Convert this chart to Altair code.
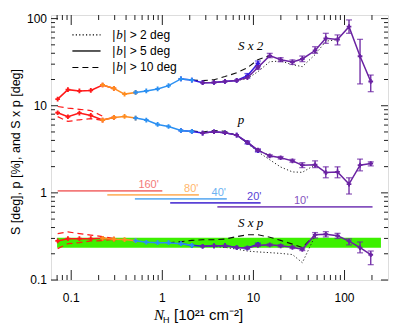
import altair as alt
import pandas as pd

# ---------------- values ----------------
NH = [0.071, 0.092, 0.123, 0.164, 0.221, 0.294, 0.385, 0.509, 0.667, 0.888,
      1.17, 1.60, 2.11, 2.77, 3.69, 4.87, 6.55, 8.59, 11.2, 15.1,
      19.9, 26.8, 34.4, 47.5, 62.3, 83.8, 112, 148, 194]
S2 = [11.9, 15.3, 14.8, 15.0, 17.3, 15.8, 13.6, 14.2, 14.8, 15.6,
      17.0, 20.3, 19.7, 18.4, 18.5, 19.0, 19.5, 21.0, 27.5, 37.6,
      33.8, 31.8, 34.4, 43.0, 59.4, 57.5, 80.9, 37.0, 19.0]
P = [8.31, 7.48, 8.24, 7.74, 6.85, 7.34, 7.54, 7.22, 6.85, 6.10,
     5.78, 5.20, 5.07, 4.86, 5.03, 4.90, 4.60, 3.79, 3.10, 2.66,
     2.53, 2.33, 2.08, 2.10, 1.71, 1.74, 1.26, 2.08, 2.17]
SP = [0.281, 0.298, 0.298, 0.298, 0.301, 0.294, 0.291, 0.283, 0.271, 0.268,
      0.268, 0.261, 0.250, 0.244, 0.247, 0.248, 0.236, 0.233, 0.250, 0.253,
      0.247, 0.237, 0.225, 0.330, 0.335, 0.322, 0.280, 0.235, 0.195]

# 20' curve where it separates from the 10' curve (indices 11..18)
S2_20 = [20.3, 19.7, 18.4, 18.5, 19.0, 19.5, 22.1, 30.5]
P_20 = [5.20, 5.07, 4.86, 5.03, 4.90, 4.60, 3.79, 3.05]
SP_20 = [0.261, 0.250, 0.244, 0.247, 0.248, 0.236, 0.233, 0.257]
E20_S2_LO, E20_S2_HI = [20.8, 28.5], [23.4, 32.6]
E20_P_LO, E20_P_HI = [3.65, 2.95], [3.93, 3.15]
E20_SP_LO, E20_SP_HI = [0.226, 0.249], [0.240, 0.265]

# error bars of the 10' curve (indices 18..28)
S2_LO = [26.3, 35.6, 32.0, 29.8, 32.1, 39.9, 52.0, 49.9, 67.8, 17.8, 14.5]
S2_HI = [28.8, 39.9, 35.6, 33.5, 37.2, 47.6, 67.8, 65.0, 96.6, 57.8, 22.5]
P_LO = [3.00, 2.58, 2.45, 2.25, 1.95, 1.95, 1.49, 1.49, 0.97, 1.79, 2.04]
P_HI = [3.20, 2.74, 2.61, 2.42, 2.22, 2.33, 1.99, 1.99, 1.49, 2.44, 2.27]
SP_LO = [0.243, 0.246, 0.240, 0.230, 0.218, 0.304, 0.312, 0.300, 0.253, 0.205, 0.150]
SP_HI = [0.257, 0.260, 0.254, 0.244, 0.232, 0.350, 0.359, 0.343, 0.296, 0.273, 0.215]

# black curves: |b| > 2 deg (dotted) and |b| > 10 deg (dashed)
S2_DOT = [19.5, 20.5, 24.6, 32.0, 32.6, 29.6, 28.1, 38.6, 55.0, 57.5]      # idx 16..25
P_DOT = [4.60, 3.70, 2.96, 2.40, 1.98, 1.74, 1.72, 2.10]                   # idx 16..23
SP_DOT = [0.244, 0.243, 0.237, 0.226, 0.215, 0.210, 0.206, 0.202, 0.196,
          0.158, 0.320]                                                      # idx 13..23
S2_DASH = [19.7, 19.4, 19.9, 21.6, 23.9, 27.3, 33.8, 37.6]                 # idx 12..19
P_DASH = [5.15, 5.00, 5.20, 5.10, 4.55, 3.75, 3.10, 2.66]                  # idx 12..19
SP_DASH = [0.268, 0.275, 0.285, 0.290, 0.290, 0.295, 0.315, 0.330, 0.330,
           0.310, 0.285, 0.258, 0.235, 0.330]                                # idx 10..23

# 160' curves for the other latitude cuts (red dashed)
P_RED_A = [9.8, 9.4, 9.1, 8.8, 7.6]
P_RED_B = [7.5, 6.6, 6.9, 7.1, 6.8]
SP_RED_A = [0.341, 0.356, 0.341, 0.327, 0.315, 0.300]
SP_RED_B = [0.229, 0.261, 0.268, 0.281, 0.283, 0.294]

RES = ["160'", "80'", "40'", "20'", "10'"]
SEG_FIRST = [0, 4, 7, 11, 13]
SEG_LAST = [5, 7, 12, 18, 28]
RES_NH_MIN = [0.071, 0.249, 0.50, 1.22, 4.02]
RES_NH_MAX = [1.00, 2.52, 5.10, 12.0, 203]
RES_LEVEL = [1.054, 0.948, 0.853, 0.767, 0.690]
RES_LABEL_NH = [0.707, 2.08, 4.16, 10.2, 33.4]
RES_LABEL_Y = [1.127, 1.027, 0.917, 0.824, 0.742]

BAND_NH = [0.070, 251]
BAND_Y = [0.235, 0.306]

LEG_NH = [0.103, 0.21]
LEG_Y = [65.0, 42.5, 27.5]
LEG_TAILS = ["| > 2 deg", "| > 5 deg", "| > 10 deg"]
LEG_LABEL_NH = 0.282

ANN = ["S x 2", "p", "S x p"]
ANN_NH = [9.34, 7.31, 9.34]
ANN_Y = [43.7, 6.21, 0.407]

X_TICKS = [0.1, 1, 10, 100]
X_TICK_LABELS = ["0.1", "1", "10", "100"]
Y_TICKS = [0.1, 1, 10, 100]
Y_TICK_LABELS = ["0.1", "1", "10", "100"]

# ---------------- styling ----------------
COL = ["#FF1A1A", "#FF8C1F", "#2B90F2", "#3418E0", "#6A22A2"]
LINE_COL = ["#F37A7A", "#FFB66A", "#6CB2F2", "#5A42D6", "#8552BE"]
LABEL_COL = ["#FF3333", "#FF9A1A", "#2E90F0", "#3A28E0", "#7A3AB0"]
W, H = 337, 265
FONT = "Liberation Sans"
SERIF = "Liberation Serif"

xs = alt.Scale(type="log", domain=[0.06, 300], nice=False)
ys = alt.Scale(type="log", domain=[0.1, 110], nice=False)


def X(f):
    return alt.X(f, type="quantitative", scale=xs, axis=None)


def Y(f):
    return alt.Y(f, type="quantitative", scale=ys, axis=None)


layers = []

# green band
band = pd.DataFrame({"x1": [BAND_NH[0]], "x2": [BAND_NH[1]],
                     "y1": [BAND_Y[0]], "y2": [BAND_Y[1]]})
layers.append(alt.Chart(band).mark_rect(color="#3DF000").encode(
    x=X("x1"), x2="x2", y=Y("y1"), y2="y2"))

# resolution ranges
res_df = pd.DataFrame({"res": RES, "x1": RES_NH_MIN, "x2": RES_NH_MAX,
                       "y": RES_LEVEL, "lx": RES_LABEL_NH, "ly": RES_LABEL_Y})
layers.append(alt.Chart(res_df).mark_rule(strokeWidth=1.6).encode(
    x=X("x1"), x2="x2", y=Y("y"),
    color=alt.Color("res:N", scale=alt.Scale(domain=RES, range=LINE_COL), legend=None)))
layers.append(alt.Chart(res_df).mark_text(fontSize=11, font=FONT, baseline="alphabetic",
                                          align="center").encode(
    x=X("lx"), y=Y("ly"), text="res:N",
    color=alt.Color("res:N", scale=alt.Scale(domain=RES, range=LABEL_COL), legend=None)))


def line_layer(xv, yv, color, width=1.3, dash=None):
    df = pd.DataFrame({"x": xv, "y": yv, "o": list(range(len(xv)))})
    kw = dict(color=color, strokeWidth=width, clip=True)
    if dash is not None:
        kw["strokeDash"] = dash
    return alt.Chart(df).mark_line(**kw).encode(x=X("x"), y=Y("y"), order="o:Q")


DOT = [1.2, 2.2]
DASH = [6, 4]

# black |b| cuts
layers.append(line_layer(NH[16:26], S2_DOT, "#222222", 1.0, DOT))
layers.append(line_layer(NH[16:24], P_DOT, "#222222", 1.0, DOT))
layers.append(line_layer(NH[13:24], SP_DOT, "#222222", 1.0, DOT))
layers.append(line_layer(NH[12:20], S2_DASH, "#111111", 1.1, DASH))
layers.append(line_layer(NH[12:20], P_DASH, "#111111", 1.1, DASH))
layers.append(line_layer(NH[10:24], SP_DASH, "#111111", 1.1, DASH))

# red dashed 160' curves
layers.append(line_layer(NH[0:5], P_RED_A, COL[0], 1.2, DASH))
layers.append(line_layer(NH[0:5], P_RED_B, COL[0], 1.2, DASH))
layers.append(line_layer(NH[0:6], SP_RED_A, COL[0], 1.2, DASH))
layers.append(line_layer(NH[0:6], SP_RED_B, COL[0], 1.2, DASH))


def points_layer(xv, yv, color):
    df = pd.DataFrame({"x": xv, "y": yv})
    return alt.Chart(df).mark_point(shape="cross", filled=True, size=22, opacity=1,
                                    color=color).encode(x=X("x"), y=Y("y"))


def err_layers(xv, lo, hi, color):
    df = pd.DataFrame({"x": xv, "lo": lo, "hi": hi})
    base = alt.Chart(df)
    return [base.mark_rule(color=color, strokeWidth=1.3).encode(x=X("x"), y=Y("lo"), y2="hi"),
            base.mark_tick(color=color, orient="horizontal", size=6, thickness=1.3).encode(
                x=X("x"), y=Y("lo")),
            base.mark_tick(color=color, orient="horizontal", size=6, thickness=1.3).encode(
                x=X("x"), y=Y("hi"))]


# coloured curves; drawing order: red, orange, 20', 40', 10'
for k in [0, 1, 3, 2, 4]:
    a, b = SEG_FIRST[k], SEG_LAST[k]
    xv = NH[a:b + 1]
    if k == 3:
        series = [S2_20, P_20, SP_20]
        for lo, hi in [(E20_S2_LO, E20_S2_HI), (E20_P_LO, E20_P_HI), (E20_SP_LO, E20_SP_HI)]:
            layers += err_layers(NH[17:19], lo, hi, COL[k])
    else:
        series = [S2[a:b + 1], P[a:b + 1], SP[a:b + 1]]
    if k == 4:
        for lo, hi in [(S2_LO, S2_HI), (P_LO, P_HI), (SP_LO, SP_HI)]:
            layers += err_layers(NH[18:29], lo, hi, COL[k])
    for vals in series:
        layers.append(line_layer(xv, vals, COL[k], 1.5))
        layers.append(points_layer(xv, vals, COL[k]))

# legend: line samples and "|b| > ... deg" labels (b in italics)
for i, dash in enumerate([DOT, None, DASH]):
    layers.append(line_layer(LEG_NH, [LEG_Y[i]] * 2, "black", 1.3 if dash is None else 1.1, dash))
leg_df = pd.DataFrame({"x": [LEG_LABEL_NH] * 3, "y": LEG_Y, "tail": LEG_TAILS,
                       "bar": ["|"] * 3, "b": ["b"] * 3})
leg_base = alt.Chart(leg_df)
layers.append(leg_base.mark_text(align="left", baseline="middle", fontSize=12, font=FONT,
                                 color="black").encode(x=X("x"), y=Y("y"), text="bar:N"))
layers.append(leg_base.mark_text(align="left", baseline="middle", fontSize=13, font=SERIF,
                                 fontStyle="italic", color="black", dx=4).encode(
    x=X("x"), y=Y("y"), text="b:N"))
layers.append(leg_base.mark_text(align="left", baseline="middle", fontSize=12, font=FONT,
                                 color="black", dx=11).encode(x=X("x"), y=Y("y"), text="tail:N"))

# curve annotations
ann_df = pd.DataFrame({"x": ANN_NH, "y": ANN_Y, "t": ANN})
layers.append(alt.Chart(ann_df).mark_text(align="center", baseline="alphabetic", fontSize=13,
                                          font=SERIF, fontStyle="italic",
                                          color="black").encode(
    x=X("x"), y=Y("y"), text="t:N"))

# inward ticks on all four sides
XT_MINOR = [m * 10.0 ** e for e in range(-2, 3) for m in range(2, 10)
            if 0.06 < m * 10.0 ** e < 300]
YT_MINOR = [m * 10.0 ** e for e in range(-1, 3) for m in range(2, 10)
            if 0.1 < m * 10.0 ** e < 110]
TICK_COL = "#222222"


def xticks(vals, ln):
    df = pd.DataFrame({"t": vals})
    base = alt.Chart(df)
    return [base.mark_rule(color=TICK_COL, strokeWidth=1).encode(
                x=X("t"), y=alt.value(H), y2=alt.value(H - ln)),
            base.mark_rule(color=TICK_COL, strokeWidth=1).encode(
                x=X("t"), y=alt.value(0), y2=alt.value(ln))]


def yticks(vals, ln):
    df = pd.DataFrame({"t": vals})
    base = alt.Chart(df)
    return [base.mark_rule(color=TICK_COL, strokeWidth=1).encode(
                y=Y("t"), x=alt.value(0), x2=alt.value(ln)),
            base.mark_rule(color=TICK_COL, strokeWidth=1).encode(
                y=Y("t"), x=alt.value(W), x2=alt.value(W - ln))]


layers += xticks(X_TICKS, 10) + xticks(XT_MINOR, 5)
layers += yticks(Y_TICKS, 7) + yticks(YT_MINOR, 4)

# tick labels
xl = pd.DataFrame({"t": X_TICKS, "s": X_TICK_LABELS})
layers.append(alt.Chart(xl).mark_text(align="center", baseline="middle", fontSize=12,
                                      font=FONT, color="black").encode(
    x=X("t"), y=alt.value(H + 18), text="s:N"))
yl = pd.DataFrame({"t": Y_TICKS, "s": Y_TICK_LABELS})
layers.append(alt.Chart(yl).mark_text(align="right", baseline="middle", fontSize=12,
                                      font=FONT, color="black").encode(
    y=Y("t"), x=alt.value(-4), text="s:N"))


# axis titles as text
def ptext(text, x, y, size, font=FONT, style="normal", angle=0, align="left",
          baseline="alphabetic"):
    df = pd.DataFrame({"t": [text]})
    return alt.Chart(df).mark_text(align=align, baseline=baseline, fontSize=size, font=font,
                                   fontStyle=style, angle=angle, color="black").encode(
        x=alt.value(x), y=alt.value(y), text="t:N")


layers.append(ptext("S [deg], p [%], and S x p [deg]", -35, 137, 12.5, angle=270,
                    align="center", baseline="middle"))
layers.append(ptext("N", 103, 305, 15, font=SERIF, style="italic"))
layers.append(ptext("H", 112, 308, 9))
layers.append(ptext("[10²¹ cm⁻²]", 123, 305, 15))

chart = alt.layer(*layers).properties(
    width=W, height=H, autosize=alt.AutoSizeParams(type="none"),
    padding={"left": 43, "top": 7, "right": 19, "bottom": 45}
).configure_view(stroke="#222222", strokeWidth=1).configure(background="white")

chart.save("out.html", embed_options={"renderer": "svg", "actions": False})
